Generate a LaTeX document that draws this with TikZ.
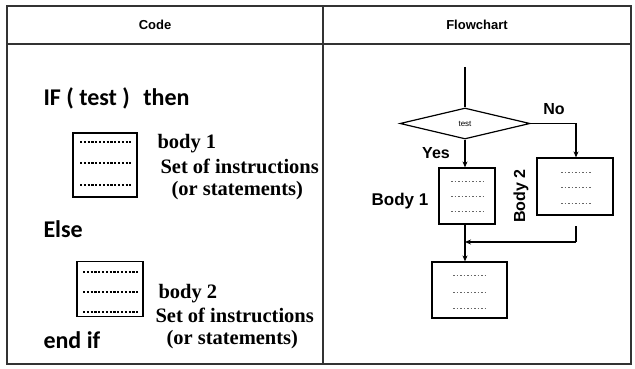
\documentclass[tikz,border=0pt]{standalone}
\usepackage{fontspec}
\setmainfont{Liberation Serif}
\newfontfamily\hdfont{Liberation Sans}
\newfontfamily\kwfont{Carlito}
\usetikzlibrary{shapes.geometric,arrows.meta}
\begin{document}
\begin{tikzpicture}[x=1pt,y=-1pt,
  grid/.style={draw=black!80,line width=1.3pt},
  head/.style={font=\hdfont\bfseries\fontsize{13}{15}\selectfont},
  kw/.style={anchor=base west,font=\kwfont\bfseries\fontsize{24}{28}\selectfont},
  note/.style={anchor=base west,font=\bfseries\fontsize{20.5}{23}\selectfont},
  codebox/.style={draw,line width=1.1pt},
  codeline/.style={line width=1.3pt,dash pattern=on 2.2pt off 1.6pt},
  flowbox/.style={draw,line width=1.2pt},
  flowdots/.style={black!60,line width=0.9pt,dash pattern=on 1.5pt off 2pt},
  flow/.style={line width=1.6pt},
  tip/.style={-{Stealth[length=6pt,width=5pt]}},
  lab/.style={font=\hdfont\bfseries\fontsize{16}{18}\selectfont}
]
\useasboundingbox (0,0) rectangle (635,369);
\fill[white] (0,0) rectangle (635,369);

% table frame
\draw[grid] (7,6) rectangle (631,364);
\draw[grid] (7,44) -- (631,44);
\draw[grid] (323,6) -- (323,364);
\node[head] (hcode) at (155,25) {Code};
\node[head] (hflow) at (477,25) {Flowchart};

% ---- code column ----
\node[kw] (if) at (40,106) {IF ( test )\,\, then};
\node[codebox,minimum width=64pt,minimum height=64pt] (cb1) at (105,165) {};
\foreach \yy in {142,163,185}
  \draw[codeline] (80,\yy) -- (131,\yy);
\node[note] (b1) at (154,148) {body 1};
\node[note] (s1) at (157,173) {Set of instructions};
\node[note] (o1) at (168,195) {(or statements)};

\node[kw] (else) at (40,237) {Else};
\node[codebox,minimum width=66pt,minimum height=55pt] (cb2) at (110,289) {};
\foreach \yy in {272,292,312}
  \draw[codeline] (83,\yy) -- (139,\yy);
\node[note] (b2) at (155,298) {body 2};
\node[note] (s2) at (152,322) {Set of instructions};
\node[note] (o2) at (163,344) {(or statements)};
\node[kw] (endif) at (40,348) {end if};

% ---- flowchart column ----
\coordinate (start) at (465,67);
\node[diamond,draw,line width=1.2pt,aspect=4.2,minimum width=130pt,minimum height=31pt,inner sep=0pt,
      font=\hdfont\fontsize{8}{9}\selectfont] (test) at (465,123.5) {test};
\node[flowbox,minimum width=56pt,minimum height=56pt] (fb1) at (467,196) {};
\node[flowbox,minimum width=76pt,minimum height=57pt] (fb2) at (575,186.5) {};
\node[flowbox,minimum width=75pt,minimum height=56pt] (fb3) at (469.5,290) {};
\coordinate (nocorner) at (576,123.5);
\coordinate (join) at (465,242);
\coordinate (b2out) at (576,226);

\foreach \yy in {181,196,211} \draw[flowdots] (451,\yy) -- (484,\yy);
\foreach \yy in {172,187,203} \draw[flowdots] (561,\yy) -- (591,\yy);
\foreach \yy in {275,292,308} \draw[flowdots] (453,\yy) -- (486,\yy);

\draw[flow] (start) -- (test.north);
\draw[flow,tip] (test.south) -- (fb1.north -| test.south);
\draw[flow,tip] (test.east) -- (nocorner) -- (fb2.north -| nocorner);
\draw[flow] (b2out) -- (b2out |- join);
\draw[flow,tip] (b2out |- join) -- (join);
\draw[flow,tip] (fb1.south -| join) -- (fb3.north -| join);

\node[lab,anchor=base] (yes) at (436,158) {Yes};
\node[lab,anchor=base] (no) at (554,114) {No};
\node[lab,anchor=base,font=\hdfont\bfseries\fontsize{17}{19}\selectfont] (body1) at (400,205) {Body 1};
\node[lab,rotate=90,font=\hdfont\bfseries\fontsize{16}{18}\selectfont] (body2) at (521,196) {Body 2};
\end{tikzpicture}
\end{document}
